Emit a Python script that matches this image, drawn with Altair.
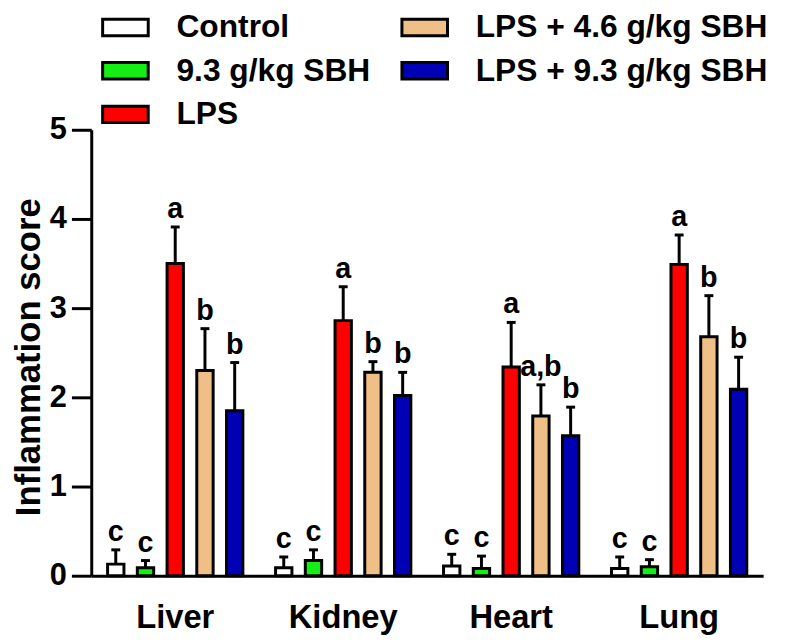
import altair as alt
import pandas as pd

organs = ["Liver", "Kidney", "Heart", "Lung"]
groups = ["Control", "9.3 g/kg SBH", "LPS", "LPS + 4.6 g/kg SBH", "LPS + 9.3 g/kg SBH"]
colors = ["#FFFFFF", "#14EE14", "#FF0000", "#F0BE87", "#0000B4"]

# mean values per organ, in group order
means = {
    "Liver":  [0.13, 0.09, 3.50, 2.30, 1.85],
    "Kidney": [0.09, 0.17, 2.86, 2.28, 2.02],
    "Heart":  [0.11, 0.08, 2.34, 1.79, 1.57],
    "Lung":   [0.08, 0.10, 3.49, 2.68, 2.09],
}
# error bar upper ends
uppers = {
    "Liver":  [0.29, 0.17, 3.91, 2.77, 2.39],
    "Kidney": [0.21, 0.29, 3.24, 2.40, 2.28],
    "Heart":  [0.24, 0.22, 2.84, 2.14, 1.89],
    "Lung":   [0.21, 0.18, 3.82, 3.14, 2.45],
}
letters = {
    "Liver":  ["c", "c", "a", "b", "b"],
    "Kidney": ["c", "c", "a", "b", "b"],
    "Heart":  ["c", "c", "a", "a,b", "b"],
    "Lung":   ["c", "c", "a", "b", "b"],
}

rows = []
for o in organs:
    for i, g in enumerate(groups):
        rows.append({"organ": o, "group": g, "mean": means[o][i],
                     "upper": uppers[o][i], "letter": letters[o][i]})
df = pd.DataFrame(rows)

FONT = "Liberation Sans"

x_enc = alt.X("organ:N", sort=organs, title=None,
              scale=alt.Scale(paddingInner=0, paddingOuter=0),
              axis=alt.Axis(labelAngle=0, ticks=False, labelPadding=26,
                            labelFontSize=33, labelFont=FONT, labelFontWeight="bold",
                            labelColor="black"))
xo_enc = alt.XOffset("group:N", sort=groups,
                     scale=alt.Scale(paddingInner=0.45, paddingOuter=0.55))
y_scale = alt.Scale(domain=[0, 5], nice=False)

bars = alt.Chart(df).mark_bar(stroke="black", strokeWidth=3).encode(
    x=x_enc,
    xOffset=xo_enc,
    y=alt.Y("mean:Q", scale=y_scale, title="Inflammation score",
            axis=alt.Axis(values=[0, 1, 2, 3, 4, 5], format="d", tickSize=20,
                          labelPadding=5, labelFontSize=31, labelFont=FONT,
                          labelFontWeight="bold", labelColor="black",
                          titleFontSize=35, titleFont=FONT, titleFontWeight="bold",
                          titleColor="black", titleAngle=270, titleAlign="center",
                          titleBaseline="alphabetic", titleX=-52, titleY=229,
                          grid=False)),
    color=alt.Color("group:N",
                    scale=alt.Scale(domain=groups, range=colors),
                    legend=alt.Legend(title=None, orient="none", legendX=10, legendY=-128,
                                      columns=2, columnPadding=25, rowPadding=3,
                                      symbolType="M-1,-0.36L1,-0.36L1,0.36L-1,0.36Z",
                                      symbolSize=2116, symbolStrokeColor="black",
                                      symbolStrokeWidth=3, symbolOpacity=1,
                                      labelFontSize=32, labelFont=FONT,
                                      labelFontWeight="bold", labelColor="black",
                                      labelOffset=27, padding=0, labelLimit=400)),
)

rules = alt.Chart(df).mark_rule(color="black", strokeWidth=3).encode(
    x=alt.X("organ:N", sort=organs),
    xOffset=alt.XOffset("group:N", sort=groups),
    y=alt.Y("mean:Q", scale=y_scale),
    y2="upper:Q",
)

caps = alt.Chart(df).mark_tick(color="black", thickness=3, size=9, opacity=1).encode(
    x=alt.X("organ:N", sort=organs),
    xOffset=alt.XOffset("group:N", sort=groups),
    y=alt.Y("upper:Q", scale=y_scale),
)

labels = alt.Chart(df).mark_text(font=FONT, fontWeight="bold", fontSize=29,
                                 color="black", dy=-9, baseline="alphabetic",
                                 align="center").encode(
    x=alt.X("organ:N", sort=organs),
    xOffset=alt.XOffset("group:N", sort=groups),
    y=alt.Y("upper:Q", scale=y_scale),
    text="letter:N",
)

chart = alt.layer(bars, rules, caps, labels).properties(
    width=678, height=450,
    autosize=alt.AutoSizeParams(type="none"),
    padding={"left": 84, "top": 120, "right": 16, "bottom": 62},
).configure_view(stroke=None).configure_axis(
    domainColor="black", domainWidth=3, tickColor="black", tickWidth=3,
)

chart.save("out.html", embed_options={"renderer": "svg", "actions": False})
